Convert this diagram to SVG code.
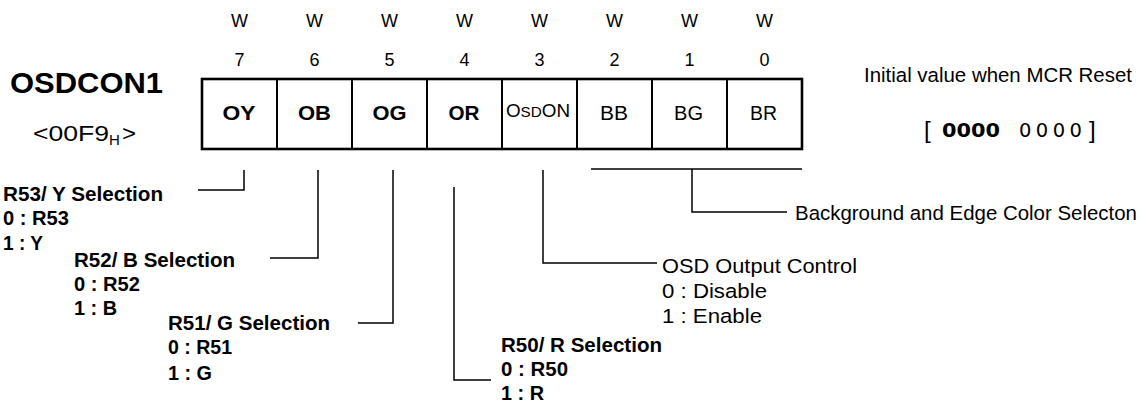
<svg xmlns="http://www.w3.org/2000/svg" width="1146" height="404" viewBox="0 0 1146 404">
<style>
text{font-family:"Liberation Sans",Arial,sans-serif;fill:#000}
.hdr{font-size:18px;text-anchor:middle}
.cb{font-size:21px;font-weight:bold;text-anchor:middle}
.cr{font-size:20.5px;text-anchor:middle}
.db{font-size:20.5px;font-weight:bold}
.dr{font-size:20.5px}
.cell{fill:#fff;stroke:#000;stroke-width:2}
.conn{fill:none;stroke:#000;stroke-width:1.5}
</style>
<rect width="1146" height="404" fill="#fff"/>
<g id="title">
<text x="10" y="93" font-size="30" font-weight="bold" textLength="153" lengthAdjust="spacingAndGlyphs">OSDCON1</text>
<text x="33" y="141" font-size="22.5" textLength="76" lengthAdjust="spacingAndGlyphs">&lt;00F9</text>
<text x="109" y="145" font-size="15">H</text>
<text x="122" y="141" font-size="22.5" textLength="14" lengthAdjust="spacingAndGlyphs">&gt;</text>
</g>
<g id="access">
<text class="hdr" x="239.5" y="26.5">W</text>
<text class="hdr" x="314.5" y="26.5">W</text>
<text class="hdr" x="389.5" y="26.5">W</text>
<text class="hdr" x="464.5" y="26.5">W</text>
<text class="hdr" x="539.5" y="26.5">W</text>
<text class="hdr" x="614.5" y="26.5">W</text>
<text class="hdr" x="689.5" y="26.5">W</text>
<text class="hdr" x="764.5" y="26.5">W</text>
<text class="hdr" x="239.5" y="66">7</text>
<text class="hdr" x="314.5" y="66">6</text>
<text class="hdr" x="389.5" y="66">5</text>
<text class="hdr" x="464.5" y="66">4</text>
<text class="hdr" x="539.5" y="66">3</text>
<text class="hdr" x="614.5" y="66">2</text>
<text class="hdr" x="689.5" y="66">1</text>
<text class="hdr" x="764.5" y="66">0</text>
</g>
<g id="register">
<g id="bit7"><rect class="cell" x="202" y="79" width="75" height="70"/><text class="cb" x="239" y="120" textLength="33" lengthAdjust="spacingAndGlyphs">OY</text></g>
<g id="bit6"><rect class="cell" x="277" y="79" width="75" height="70"/><text class="cb" x="314.5" y="120" textLength="33" lengthAdjust="spacingAndGlyphs">OB</text></g>
<g id="bit5"><rect class="cell" x="352" y="79" width="75" height="70"/><text class="cb" x="389.5" y="120" textLength="34" lengthAdjust="spacingAndGlyphs">OG</text></g>
<g id="bit4"><rect class="cell" x="427" y="79" width="75" height="70"/><text class="cb" x="464" y="120" textLength="31" lengthAdjust="spacingAndGlyphs">OR</text></g>
<g id="bit3"><rect class="cell" x="502" y="79" width="75" height="70"/><text x="506" y="117" font-size="18.5" textLength="64" lengthAdjust="spacingAndGlyphs">O<tspan font-size="15">SD</tspan>ON</text></g>
<g id="bit2"><rect class="cell" x="577" y="79" width="75" height="70"/><text class="cr" x="614" y="120" textLength="28" lengthAdjust="spacingAndGlyphs">BB</text></g>
<g id="bit1"><rect class="cell" x="652" y="79" width="75" height="70"/><text class="cr" x="688.5" y="120" textLength="29" lengthAdjust="spacingAndGlyphs">BG</text></g>
<g id="bit0"><rect class="cell" x="727" y="79" width="75" height="70"/><text class="cr" x="763.5" y="120" textLength="27" lengthAdjust="spacingAndGlyphs">BR</text></g>
<rect x="202" y="79" width="600" height="70" fill="none" stroke="#000" stroke-width="2.6"/>
</g>
<g id="reset">
<text x="864" y="82" font-size="20.5" textLength="268" lengthAdjust="spacingAndGlyphs">Initial value when MCR Reset</text>
<text x="924" y="138" font-size="24">[</text>
<text x="942" y="137" font-size="19.5" font-weight="bold" textLength="58" lengthAdjust="spacingAndGlyphs" style="font-family:'DejaVu Sans',sans-serif">0000</text>
<text x="1019" y="137" font-size="19.5" textLength="63" lengthAdjust="spacing" style="font-family:'DejaVu Sans',sans-serif">0000</text>
<text x="1089" y="138" font-size="24">]</text>
</g>
<g id="connectors">
<polyline class="conn" points="198,190 244,190 244,170"/>
<polyline class="conn" points="270,258 318,258 318,170"/>
<polyline class="conn" points="358,323 393,323 393,170"/>
<polyline class="conn" points="491,380 454,380 454,187"/>
<polyline class="conn" points="657,263 543,263 543,170"/>
<line class="conn" x1="591" y1="169" x2="802" y2="169"/>
<polyline class="conn" points="692,169 692,212 787,212"/>
</g>
<g id="desc-bit7">
<text class="db" x="3" y="200.5" textLength="160" lengthAdjust="spacingAndGlyphs">R53/ Y Selection</text>
<text class="db" x="3" y="224.5" textLength="66" lengthAdjust="spacingAndGlyphs">0 : R53</text>
<text class="db" x="3" y="249.5" textLength="40" lengthAdjust="spacingAndGlyphs">1 : Y</text>
</g>
<g id="desc-bit6">
<text class="db" x="74" y="266.5" textLength="161" lengthAdjust="spacingAndGlyphs">R52/ B Selection</text>
<text class="db" x="74" y="290.5" textLength="66" lengthAdjust="spacingAndGlyphs">0 : R52</text>
<text class="db" x="74" y="315" textLength="43" lengthAdjust="spacingAndGlyphs">1 : B</text>
</g>
<g id="desc-bit5">
<text class="db" x="168" y="330" textLength="162" lengthAdjust="spacingAndGlyphs">R51/ G Selection</text>
<text class="db" x="168" y="354" textLength="64" lengthAdjust="spacingAndGlyphs">0 : R51</text>
<text class="db" x="168" y="379.5" textLength="44" lengthAdjust="spacingAndGlyphs">1 : G</text>
</g>
<g id="desc-bit4">
<text class="db" x="501" y="351.5" textLength="161" lengthAdjust="spacingAndGlyphs">R50/ R Selection</text>
<text class="db" x="501" y="375.5" textLength="67" lengthAdjust="spacingAndGlyphs">0 : R50</text>
<text class="db" x="501" y="400" textLength="43" lengthAdjust="spacingAndGlyphs">1 : R</text>
</g>
<g id="desc-bit3">
<text class="dr" x="662" y="272.5" textLength="195" lengthAdjust="spacingAndGlyphs">OSD Output Control</text>
<text class="dr" x="662" y="297.5" textLength="105" lengthAdjust="spacingAndGlyphs">0 : Disable</text>
<text class="dr" x="662" y="322.5" textLength="100" lengthAdjust="spacingAndGlyphs">1 : Enable</text>
</g>
<g id="desc-bits2-0">
<text class="dr" x="795" y="220" textLength="342" lengthAdjust="spacingAndGlyphs">Background and Edge Color Selecton</text>
</g>
</svg>
